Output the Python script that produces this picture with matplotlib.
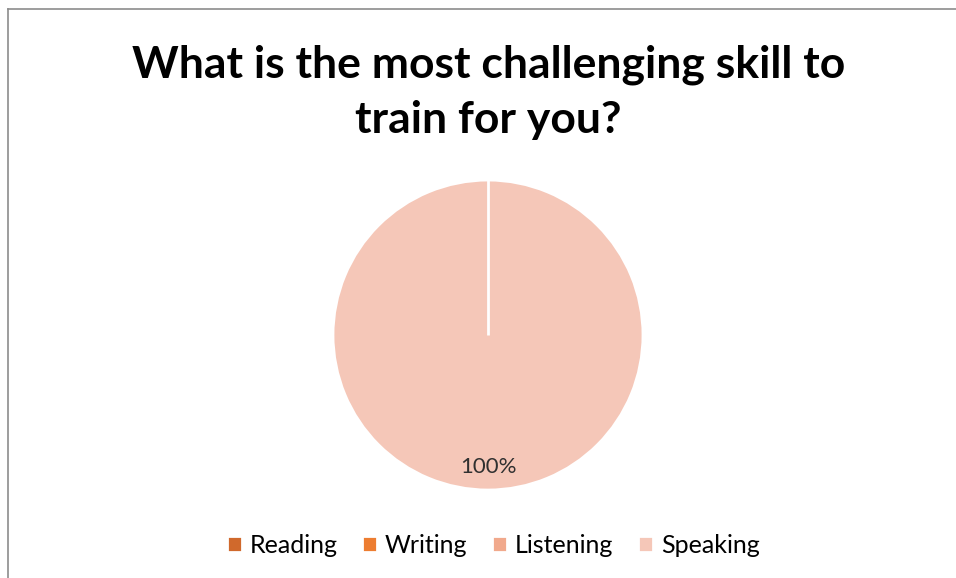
import matplotlib.pyplot as plt
import numpy as np

plt.rcParams['font.family'] = ['Lato', 'DejaVu Sans']

# Survey answers (share of respondents)
skills = ['Reading', 'Writing', 'Listening', 'Speaking']
shares = [0, 0, 0, 100]
colors = ['#D0692C', '#ED7D31', '#F1A98C', '#F5C7B8']

fig = plt.figure(figsize=(9.56, 5.78), dpi=100)
fig.patch.set_facecolor('white')

# chart frame (only left and top edges fall inside the image)
fig.add_artist(plt.Line2D([0.008, 0.008], [0, 0.985], color='#8c8c8c', lw=1.2))
fig.add_artist(plt.Line2D([0.008, 1.0], [0.985, 0.985], color='#8c8c8c', lw=1.2))

fig.text(0.511, 0.84, 'What is the most challenging skill to\ntrain for you?',
         ha='center', va='center', fontsize=32, fontweight='bold',
         linespacing=1.45)

ax = fig.add_axes([0.3483, 0.1522, 0.3243, 0.5363])


def pct_label(p):
    return f'{p:.0f}%' if p > 0 else ''


wedges, texts, autotexts = ax.pie(
    shares, colors=colors, startangle=90, counterclock=False,
    autopct=pct_label, pctdistance=0.85,
    wedgeprops=dict(edgecolor='white', linewidth=2.0),
    textprops=dict(fontsize=16, color='#303030'))
ax.set_xlim(-1, 1)
ax.set_ylim(-1, 1)
ax.set_aspect('equal')

# white slice border where the zero-size slices sit
start = wedges[-1]
ang = np.deg2rad(start.theta2)
ax.plot([0, start.r * np.cos(ang)], [0, start.r * np.sin(ang)],
        color='white', lw=2.0, solid_capstyle='butt')

fig.legend(wedges, skills, loc='center', bbox_to_anchor=(0.516, 0.057),
           ncol=4, frameon=False, fontsize=18, handlelength=0.6,
           handleheight=0.6, handletextpad=0.3, columnspacing=1.0)

fig.savefig('out.png', dpi=100)
